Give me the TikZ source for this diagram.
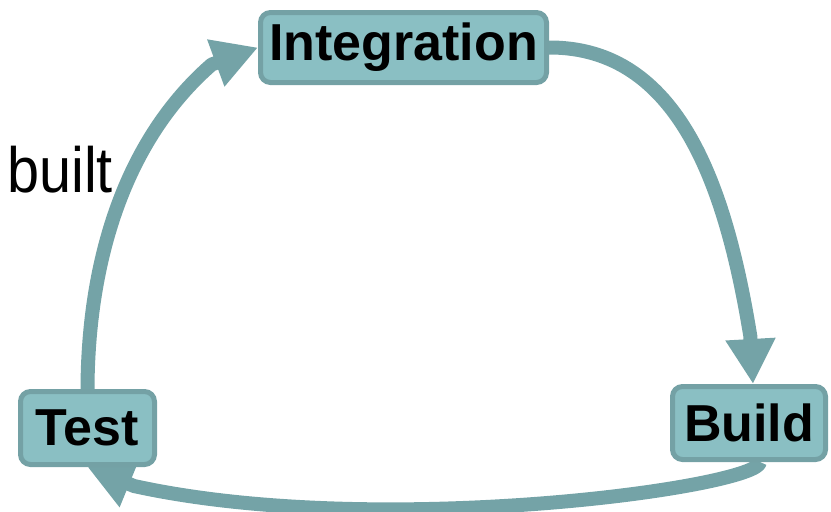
\documentclass[tikz,border=0pt]{standalone}
\usepackage{fontspec}
\setmainfont{Liberation Sans}
\newfontfamily\narrowfont[FakeStretch=0.9]{Liberation Sans}
\usetikzlibrary{arrows.meta,backgrounds}
\definecolor{edgecol}{RGB}{116,163,167}
\definecolor{boxfill}{RGB}{138,191,195}
\definecolor{boxline}{RGB}{116,161,165}
\begin{document}
\begin{tikzpicture}[x=1pt,y=-1pt,
  stage/.style={draw=boxline, fill=boxfill, line width=5pt, rounded corners=10pt, inner sep=0pt,
    font=\bfseries\fontsize{52}{60}\selectfont},
  flow/.style={draw=edgecol, line width=14pt, line join=round,
    -{Triangle[length=45pt,width=47pt]}}]
\useasboundingbox (0,0) rectangle (831,512);
\node[stage, minimum width=286pt, minimum height=70pt] (integ) at (403.5,47.5) {Integration};
\node[stage, minimum width=134pt, minimum height=73pt] (test) at (87.5,428) {Test};
\node[stage, minimum width=153pt, minimum height=73pt] (build) at (749,423) {Build};
\node[anchor=base west, inner sep=0pt, font=\narrowfont\fontsize{64}{70}\selectfont] (lbl) at (7,192) {built};
\begin{scope}[on background layer]
\draw[flow] (test.north) .. controls (88,260) and (125,140) .. (211.7,64.5) -- (integ.west);
\draw[flow] (integ.east) .. controls (679,47) and (726,187) .. (750.3,336) -- ([xshift=4pt]build.north);
\draw[flow] ([xshift=11pt]build.south) .. controls (760,487) and (380,540) .. (134,486) -- (test.south);
\end{scope}
\end{tikzpicture}
\end{document}
